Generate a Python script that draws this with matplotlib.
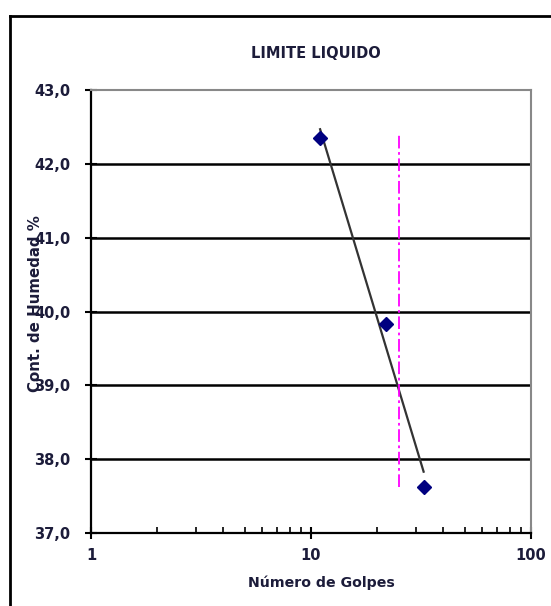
import matplotlib
matplotlib.use("Agg")
import matplotlib.pyplot as plt
from matplotlib.lines import Line2D
from matplotlib.ticker import FixedLocator, LogLocator, NullFormatter
import numpy as np

plt.rcParams['font.family'] = ['DejaVu Sans']

golpes = [11, 22, 32.5]
humedad = [42.35, 39.83, 37.62]
ll_golpes = 25
y_ticks = [37.0, 38.0, 39.0, 40.0, 41.0, 42.0, 43.0]
x_ticks = [1, 10, 100]
title = "LIMITE LIQUIDO"
xlabel = "Número de Golpes"
ylabel = "Cont. de Humedad %"

txt_color = '#1c1c3a'

fig = plt.figure(figsize=(5.51, 6.06), dpi=100)
ax = fig.add_axes([91/551, 1-533/606, (531-91)/551, (533-90)/606])

ax.set_xscale('log')
ax.set_xlim(1, 100)
ax.set_ylim(37, 43)

for yv in y_ticks[1:-1]:
    ax.axhline(yv, color='black', lw=1.8, zorder=1)

# trend line (log fit)
lx = np.log10(golpes)
m, b = np.polyfit(lx, humedad, 1)
xs = np.array([min(golpes), max(golpes)])
ax.plot(xs, m*np.log10(xs)+b, color='#333333', lw=1.6, zorder=2)

ax.plot([ll_golpes, ll_golpes], [min(humedad), max(humedad)+0.05], color='#ff00ff', lw=1.3,
        linestyle=(0, (7, 2, 1.5, 2)), zorder=2)

ax.plot(golpes, humedad, linestyle='none', marker='D', markersize=7, color='#000080', zorder=3)

ax.set_yticks(y_ticks)
ax.set_yticklabels([f"{v:.1f}".replace('.', ',') for v in y_ticks])
ax.xaxis.set_major_locator(FixedLocator(x_ticks))
ax.set_xticklabels([str(v) for v in x_ticks])
ax.xaxis.set_minor_locator(LogLocator(base=10, subs=np.arange(2, 10)))
ax.xaxis.set_minor_formatter(NullFormatter())

for lab in ax.get_xticklabels() + ax.get_yticklabels():
    lab.set_fontweight('bold')
    lab.set_fontsize(10.5)
    lab.set_color(txt_color)

ax.tick_params(axis='both', which='major', direction='inout', length=8, width=1.5)
ax.tick_params(axis='y', which='major', pad=11)
ax.tick_params(axis='x', which='major', pad=7)
ax.tick_params(axis='x', which='minor', direction='in', length=4, width=1.2)
ax.tick_params(axis='y', which='minor', left=False)

ax.spines['left'].set_linewidth(1.6)
ax.spines['bottom'].set_linewidth(1.6)
ax.spines['top'].set_color('#888888')
ax.spines['right'].set_color('#888888')
ax.spines['top'].set_linewidth(1.5)
ax.spines['right'].set_linewidth(1.5)

fig.text(316/551, 1-54/606, title, ha='center', va='center', fontsize=10.5, fontweight='bold', color=txt_color)
fig.text(321/551, 1-583/606, xlabel, ha='center', va='center', fontsize=10.2, fontweight='bold', color=txt_color)
fig.text(36/551, 1-304/606, ylabel, ha='center', va='center', rotation=90, fontsize=10.8, fontweight='bold', color=txt_color)

# outer chart border (extends past right/bottom edge)
fig.add_artist(Line2D([10/551, 10/551], [0, 1-16/606], transform=fig.transFigure, color='black', lw=2))
fig.add_artist(Line2D([10/551, 1], [1-16/606, 1-16/606], transform=fig.transFigure, color='black', lw=2))

fig.savefig('out.png', dpi=100)
